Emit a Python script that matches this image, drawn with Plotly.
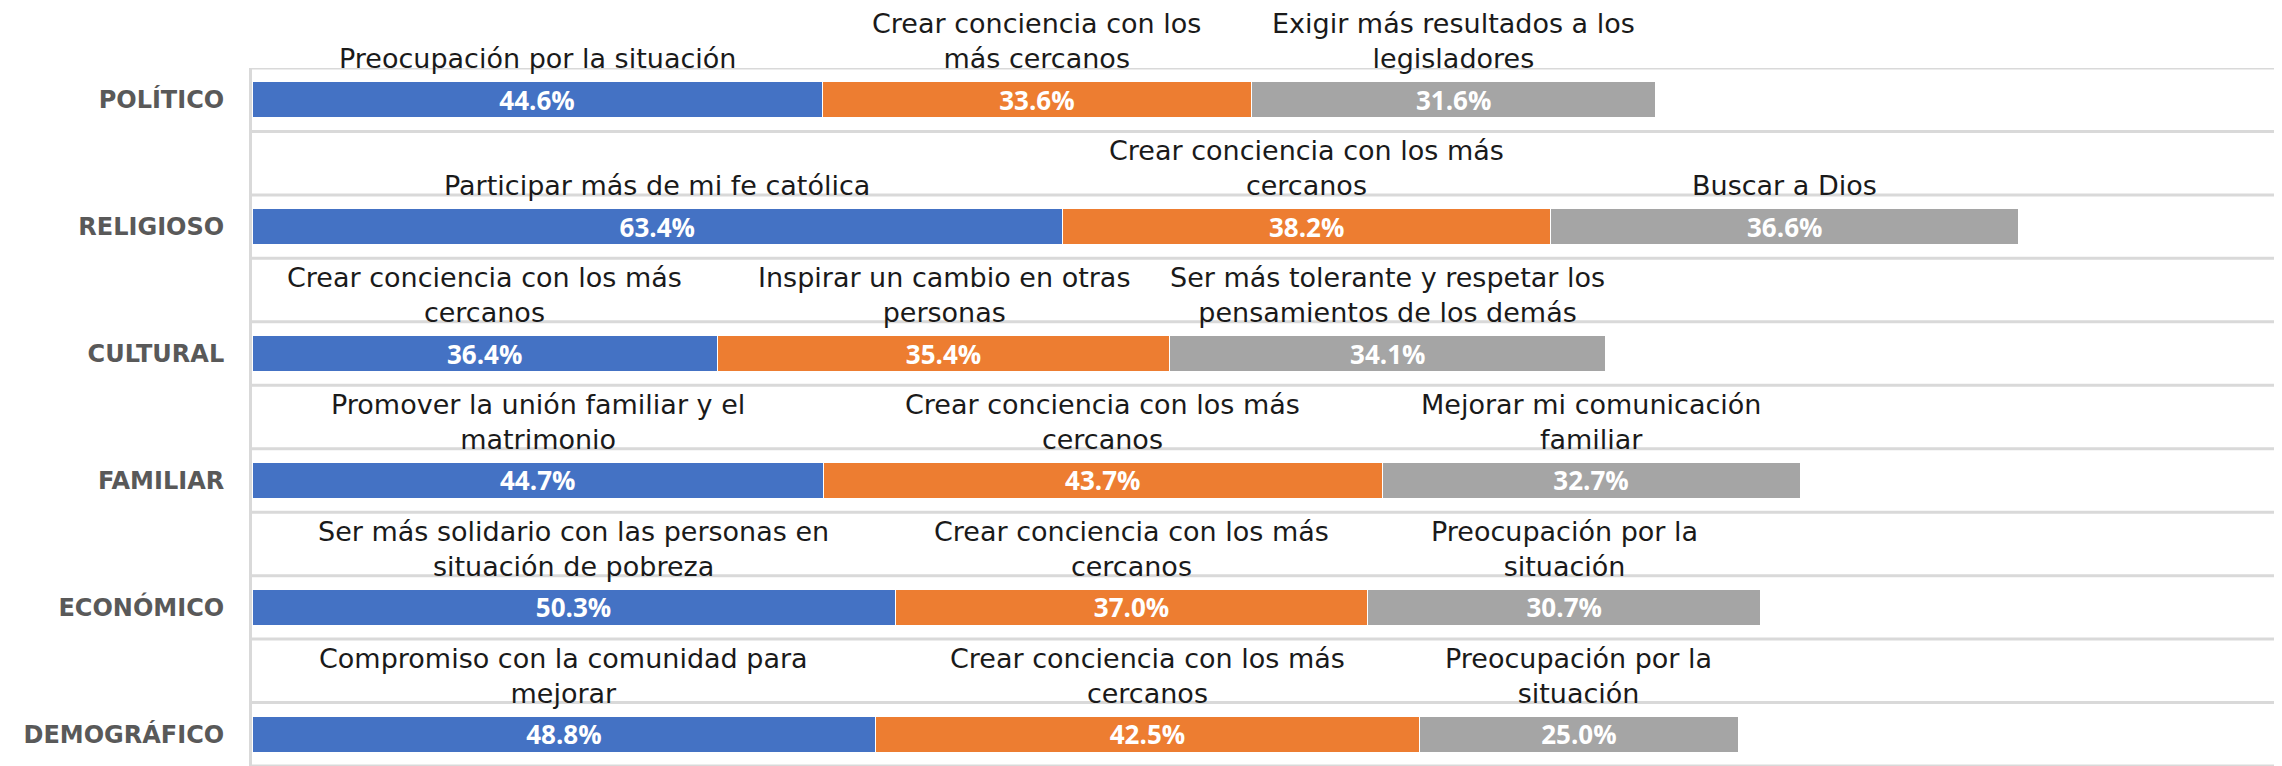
import plotly.graph_objects as go

categories = ["POLÍTICO", "RELIGIOSO", "CULTURAL", "FAMILIAR", "ECONÓMICO", "DEMOGRÁFICO"]
serie1 = [44.6, 63.4, 36.4, 44.7, 50.3, 48.8]
serie2 = [33.6, 38.2, 35.4, 43.7, 37.0, 42.5]
serie3 = [31.6, 36.6, 34.1, 32.7, 30.7, 25.0]
labels1 = [
    "Preocupación por la situación",
    "Participar más de mi fe católica",
    "Crear conciencia con los más<br>cercanos",
    "Promover la unión familiar y el<br>matrimonio",
    "Ser más solidario con las personas en<br>situación de pobreza",
    "Compromiso con la comunidad para<br>mejorar",
]
labels2 = [
    "Crear conciencia con los<br>más cercanos",
    "Crear conciencia con los más<br>cercanos",
    "Inspirar un cambio en otras<br>personas",
    "Crear conciencia con los más<br>cercanos",
    "Crear conciencia con los más<br>cercanos",
    "Crear conciencia con los más<br>cercanos",
]
labels3 = [
    "Exigir más resultados a los<br>legisladores",
    "Buscar a Dios",
    "Ser más tolerante y respetar los<br>pensamientos de los demás",
    "Mejorar mi comunicación<br>familiar",
    "Preocupación por la<br>situación",
    "Preocupación por la<br>situación",
]
colors = ["#4472C4", "#ED7D31", "#A5A5A5"]

BAR_W = 0.28
series = [serie1, serie2, serie3]
label_sets = [labels1, labels2, labels3]

fig = go.Figure()
for vals, col in zip(series, colors):
    fig.add_trace(go.Bar(
        y=categories, x=vals, orientation="h", width=BAR_W,
        marker=dict(color=col, line=dict(color="white", width=1)),
        texttemplate="%{x:.1f}%", textposition="inside", insidetextanchor="middle",
        constraintext="none",
        textfont=dict(family="Open Sans", size=26, color="white", weight="bold"),
        hoverinfo="skip", showlegend=False,
    ))

annotations = []
for i in range(len(categories)):
    start = 0.0
    for vals, labs in zip(series, label_sets):
        annotations.append(dict(
            x=start + vals[i] / 2, y=i - BAR_W / 2, xref="x", yref="y",
            text=labs[i], showarrow=False, yanchor="bottom", xanchor="center",
            yshift=6,
            font=dict(family="DejaVu Sans", size=27, color="#1a1a1a"),
        ))
        start += vals[i]

shapes = []
for i in range(len(categories)):
    for off in (-0.25, 0.25):
        shapes.append(dict(type="line", xref="paper", x0=0, x1=1, yref="y",
                           y0=i + off, y1=i + off, layer="below",
                           line=dict(color="#D9D9D9", width=3)))

fig.update_layout(
    width=2274, height=758,
    barmode="stack",
    plot_bgcolor="white", paper_bgcolor="white",
    margin=dict(l=244, r=0, t=60, b=0, autoexpand=False),
    annotations=annotations, shapes=shapes,
    xaxis=dict(range=[0, 158.8], showgrid=False, showticklabels=False,
               zeroline=False, showline=False, automargin=False),
    yaxis=dict(categoryorder="array", categoryarray=categories,
               range=[len(categories) - 0.75, -0.25], automargin=False,
               showgrid=False, zeroline=False,
               showline=True, linecolor="#D9D9D9", linewidth=3,
               ticks="", ticklabelstandoff=20,
               tickfont=dict(family="DejaVu Sans", size=24, color="#595959", weight="bold")),
)

fig.write_html("out.html")
